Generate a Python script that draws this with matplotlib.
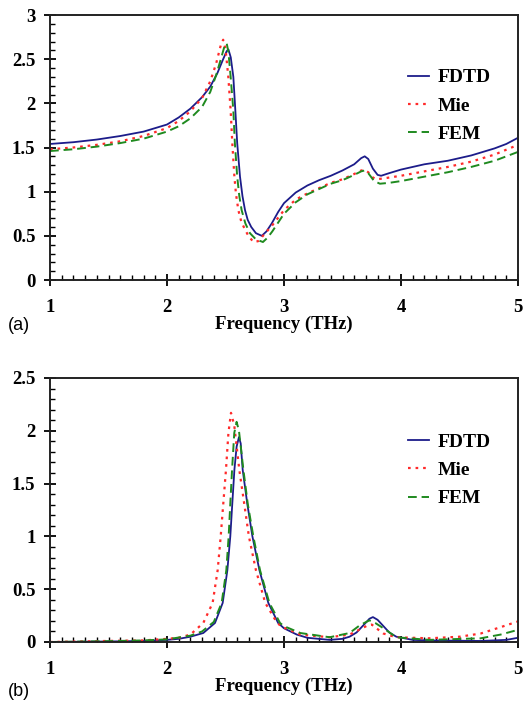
import matplotlib
matplotlib.use("Agg")
import matplotlib.pyplot as plt
from matplotlib.ticker import MultipleLocator

# ---------------- data (a) ----------------
a_fdtd_f = [1.0, 1.2, 1.4, 1.6, 1.8, 2.0, 2.1, 2.2, 2.3, 2.37, 2.43, 2.48, 2.51, 2.525, 2.545,
            2.567, 2.585, 2.60, 2.624, 2.645, 2.667, 2.69, 2.72, 2.76, 2.81, 2.85, 2.895, 2.95,
            3.0, 3.1, 3.2, 3.3, 3.4, 3.5, 3.6, 3.66, 3.69, 3.72, 3.76, 3.80, 3.83, 3.9, 4.0,
            4.2, 4.4, 4.6, 4.8, 4.9, 5.0]
a_fdtd_v = [1.54, 1.56, 1.59, 1.63, 1.68, 1.76, 1.84, 1.94, 2.07, 2.19, 2.34, 2.50, 2.59, 2.61, 2.52,
            2.30, 1.90, 1.55, 1.17, 0.95, 0.79, 0.68, 0.60, 0.53, 0.50, 0.55, 0.64, 0.77,
            0.87, 0.99, 1.07, 1.13, 1.18, 1.24, 1.31, 1.38, 1.40, 1.37, 1.26, 1.19, 1.18, 1.21, 1.25,
            1.31, 1.35, 1.41, 1.49, 1.54, 1.61]

a_mie_f = [1.0, 1.2, 1.4, 1.6, 1.8, 2.0, 2.1, 2.2, 2.3, 2.37, 2.42, 2.46, 2.48, 2.50, 2.524,
           2.544, 2.558, 2.576, 2.59, 2.61, 2.635, 2.667, 2.70, 2.74, 2.78, 2.82, 2.9, 3.0, 3.1,
           3.2, 3.3, 3.4, 3.5, 3.6, 3.66, 3.69, 3.72, 3.76, 3.79, 3.85, 4.0, 4.2, 4.4, 4.6, 4.8, 5.0]
a_mie_v = [1.48, 1.50, 1.53, 1.57, 1.63, 1.72, 1.80, 1.91, 2.06, 2.25, 2.45, 2.66, 2.72, 2.62, 2.30,
           1.92, 1.55, 1.17, 0.97, 0.79, 0.66, 0.57, 0.49, 0.43, 0.44, 0.50, 0.62, 0.79, 0.91,
           0.98, 1.04, 1.10, 1.14, 1.20, 1.24, 1.245, 1.22, 1.16, 1.14, 1.15, 1.18, 1.23, 1.28, 1.34,
           1.42, 1.53]

a_fem_f = [1.0, 1.2, 1.4, 1.6, 1.8, 2.0, 2.1, 2.2, 2.3, 2.37, 2.42, 2.46, 2.49, 2.51, 2.525,
           2.544, 2.567, 2.58, 2.60, 2.618, 2.638, 2.67, 2.709, 2.76, 2.82, 2.86, 2.9, 3.0, 3.1,
           3.2, 3.3, 3.4, 3.5, 3.6, 3.66, 3.69, 3.72, 3.77, 3.82, 3.9, 4.0, 4.2, 4.4, 4.6, 4.8, 5.0]
a_fem_v = [1.46, 1.48, 1.51, 1.55, 1.60, 1.68, 1.74, 1.83, 1.96, 2.13, 2.32, 2.50, 2.64, 2.68, 2.58,
           2.30, 1.92, 1.55, 1.17, 0.95, 0.79, 0.64, 0.53, 0.46, 0.43, 0.48, 0.55, 0.75, 0.88,
           0.97, 1.03, 1.09, 1.13, 1.19, 1.23, 1.24, 1.21, 1.12, 1.09, 1.10, 1.12, 1.17, 1.22, 1.28,
           1.35, 1.45]

# ---------------- data (b) ----------------
b_fdtd_f = [1.0, 1.5, 1.8, 2.0, 2.1, 2.2, 2.31, 2.41, 2.476, 2.516, 2.541, 2.558, 2.576, 2.595,
            2.615, 2.63, 2.647, 2.686, 2.73, 2.79, 2.866, 2.95, 3.0, 3.11, 3.2, 3.39, 3.5, 3.56,
            3.62, 3.68, 3.73, 3.76, 3.80, 3.85, 3.9, 3.96, 4.1, 4.24, 4.68, 4.9, 5.0]
b_fdtd_v = [0.0, 0.005, 0.01, 0.02, 0.03, 0.05, 0.085, 0.18, 0.37, 0.68, 1.0, 1.31, 1.63, 1.85,
            1.94, 1.88, 1.63, 1.31, 1.0, 0.68, 0.37, 0.18, 0.13, 0.07, 0.04, 0.02, 0.03, 0.05,
            0.09, 0.16, 0.22, 0.236, 0.21, 0.15, 0.09, 0.05, 0.02, 0.015, 0.01, 0.02, 0.04]

b_mie_f = [1.0, 1.5, 1.8, 2.0, 2.1, 2.2, 2.31, 2.39, 2.433, 2.459, 2.481, 2.504, 2.525, 2.547,
           2.575, 2.618, 2.66, 2.70, 2.76, 2.84, 2.92, 2.97, 3.14, 3.39, 3.56, 3.65, 3.72, 3.75,
           3.79, 3.85, 3.96, 4.24, 4.5, 4.68, 4.85, 5.0]
b_mie_v = [0.0, 0.01, 0.015, 0.03, 0.04, 0.07, 0.18, 0.37, 0.68, 1.0, 1.31, 1.63, 1.98, 2.17,
           2.05, 1.63, 1.31, 1.0, 0.68, 0.37, 0.22, 0.15, 0.07, 0.045, 0.07, 0.12, 0.16, 0.165,
           0.13, 0.08, 0.045, 0.035, 0.05, 0.08, 0.14, 0.195]

b_fem_f = [1.0, 1.5, 1.8, 2.0, 2.2, 2.3, 2.4, 2.467, 2.507, 2.527, 2.541, 2.556, 2.575, 2.595,
           2.615, 2.653, 2.69, 2.738, 2.795, 2.875, 2.966, 3.0, 3.14, 3.39, 3.56, 3.65, 3.73,
           3.78, 3.85, 3.96, 4.24, 4.68, 4.85, 5.0]
b_fem_v = [0.0, 0.008, 0.015, 0.025, 0.06, 0.10, 0.19, 0.37, 0.68, 1.0, 1.31, 1.63, 1.98, 2.085,
           2.0, 1.63, 1.31, 1.0, 0.68, 0.37, 0.18, 0.15, 0.085, 0.045, 0.085, 0.16, 0.205,
           0.18, 0.13, 0.045, 0.02, 0.035, 0.07, 0.115]

series_labels = ["FDTD", "Mie", "FEM"]
x_ticks = [1, 2, 3, 4, 5]
a_yticks = [0, 0.5, 1, 1.5, 2, 2.5, 3]
a_yticklabels = ["0", "0.5", "1", "1.5", "2", "2.5", "3"]
b_yticks = [0, 0.5, 1, 1.5, 2, 2.5]
b_yticklabels = ["0", "0.5", "1", "1.5", "2", "2.5"]
x_label = "Frequency (THz)"
panel_labels = ["(a)", "(b)"]

# ---------------- styling ----------------
C_FDTD = "#1c1c8a"
C_MIE = "#ff2a2a"
C_FEM = "#1f8a1f"
SERIF = "Liberation Serif"

fig = plt.figure(figsize=(5.25, 7.02), dpi=100)
W, H = 525, 702


def axes_px(l, t, r, b):
    return fig.add_axes([l / W, 1 - b / H, (r - l) / W, (b - t) / H])


ax_a = axes_px(50, 15, 518, 280)
ax_b = axes_px(50, 378, 518, 642)


def style(ax, yticks, ylabels, ymax):
    ax.set_xlim(1, 5)
    ax.set_ylim(0, ymax)
    ax.set_xticks(x_ticks)
    ax.set_xticklabels([str(t) for t in x_ticks])
    ax.set_yticks(yticks)
    ax.set_yticklabels(ylabels)
    ax.xaxis.set_minor_locator(MultipleLocator(0.1))
    ax.yaxis.set_minor_locator(MultipleLocator(0.1))
    ax.tick_params(which="major", direction="inout", length=9, width=1.3,
                   top=False, right=False, pad=6)
    ax.tick_params(which="minor", direction="in", length=3.8, width=1.0,
                   top=False, right=False)
    ax.tick_params(axis="x", which="major", pad=9)
    for lab in ax.get_xticklabels() + ax.get_yticklabels():
        lab.set_fontfamily(SERIF)
        lab.set_fontweight("bold")
        lab.set_fontsize(13.5)
    for s in ax.spines.values():
        s.set_linewidth(1.4)
        s.set_color("#222222")
    ax.set_xlabel(x_label, fontfamily=SERIF, fontweight="bold", fontsize=13.5, labelpad=0)


def draw(ax, data):
    (f1, v1), (f2, v2), (f3, v3) = data
    ax.plot(f1, v1, color=C_FDTD, lw=1.3, ls="-", label=series_labels[0])
    ax.plot(f2, v2, color=C_MIE, lw=1.6, ls=(0, (1.2, 2.2)), label=series_labels[1])
    ax.plot(f3, v3, color=C_FEM, lw=1.4, ls=(0, (4.5, 2.5)), label=series_labels[2])


draw(ax_a, [(a_fdtd_f, a_fdtd_v), (a_mie_f, a_mie_v), (a_fem_f, a_fem_v)])
draw(ax_b, [(b_fdtd_f, b_fdtd_v), (b_mie_f, b_mie_v), (b_fem_f, b_fem_v)])
style(ax_a, a_yticks, a_yticklabels, 3)
style(ax_b, b_yticks, b_yticklabels, 2.5)

leg_kw = dict(frameon=False, handlelength=1.1, handletextpad=0.42, labelspacing=0.55,
              prop={"family": SERIF, "weight": "bold", "size": 14}, loc="upper left",
              borderaxespad=0, borderpad=0)
ax_a.legend(bbox_to_anchor=(0.765, 0.797), **leg_kw)
ax_b.legend(bbox_to_anchor=(0.765, 0.791), **leg_kw)

fig.text(8 / W, 1 - 326 / H, panel_labels[0], fontfamily="Liberation Sans", fontsize=13,
         va="center", ha="left")
fig.text(8 / W, 1 - 692 / H, panel_labels[1], fontfamily="Liberation Sans", fontsize=13,
         va="center", ha="left")

fig.savefig("out.png", dpi=100)
